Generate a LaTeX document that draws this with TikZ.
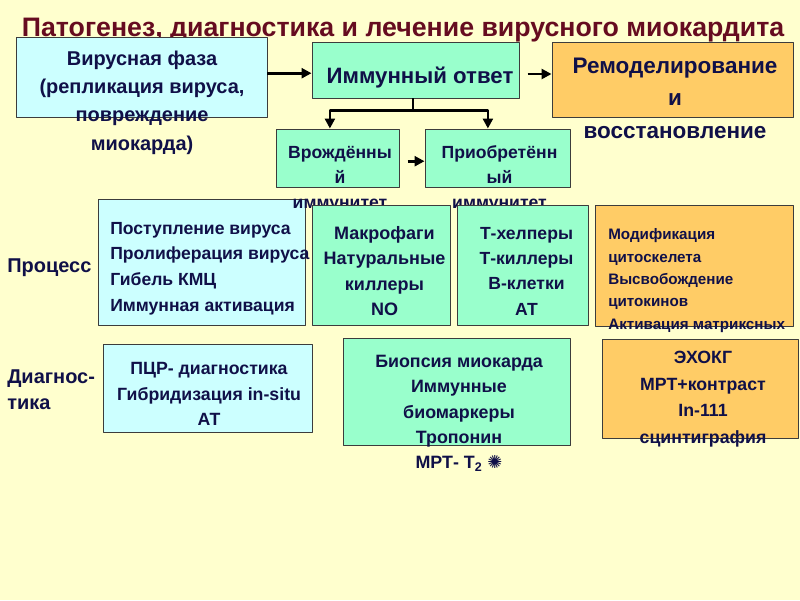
\documentclass[tikz,border=0pt]{standalone}
\usepackage{fontspec}
\setmainfont{Liberation Sans}
\newfontfamily\dingfont{DejaVu Sans}
\usetikzlibrary{fit,arrows.meta}

\begin{document}
\begin{tikzpicture}[
    x=0.025cm, y=-0.025cm,
    every node/.style={font=\bfseries, text=ink, inner sep=0pt},
    box/.style={draw=edge, line width=0.7pt, inner sep=0pt},
    arr/.style={-{Triangle[length=7pt,width=7pt]}, line width=1.9pt},
    line join=round
]

% Colors
\definecolor{paper}{RGB}{255,255,206}
\definecolor{ink}{RGB}{16,16,72}
\definecolor{headline}{RGB}{102,12,32}
\definecolor{edge}{RGB}{60,60,60}
\definecolor{skyfill}{RGB}{204,255,255}
\definecolor{mintfill}{RGB}{153,255,204}
\definecolor{amberfill}{RGB}{255,204,102}

% ----------------------------------------------------
% Background and title
% ----------------------------------------------------
\fill[paper] (0,0) rectangle (800,600);
\useasboundingbox (0,0) rectangle (800,600);

\node[font=\bfseries\fontsize{19}{22}\selectfont, text=headline, anchor=base] (title) at (403,36)
{Патогенез, диагностика и лечение вирусного миокардита};

% ----------------------------------------------------
% Top row: phases
% ----------------------------------------------------
\node[box, fill=skyfill, fit={(16,37) (267,117)}] (viral) {};
\node[box, fill=mintfill, fit={(312,42) (519,98)}] (immune) {};
\node[box, fill=amberfill, fit={(552,42) (793,117)}] (remodel) {};

\node[font=\bfseries\fontsize{14.2}{20.1}\selectfont, align=center] (viraltext) at (142,102.5)
{Вирусная фаза\\(репликация вируса,\\повреждение\\миокарда)};
\node[font=\bfseries\fontsize{15.8}{18}\selectfont, anchor=base] (immunetext) at (420,83) {Иммунный ответ};
\node[font=\bfseries\fontsize{16}{23.1}\selectfont, align=center] (remodeltext) at (675,98)
{Ремоделирование\\и\\восстановление};

\coordinate (immunein) at ([yshift=-0.08cm]immune.west);
\coordinate (immuneout) at ([yshift=-0.1cm]immune.east);
\draw[arr] (viral.east |- immunein) -- (immunein);
\draw[arr, shorten <=0.2cm] (immuneout) -- (remodel.west |- immuneout);

% ----------------------------------------------------
% Innate and acquired immunity
% ----------------------------------------------------
\node[box, fill=mintfill, fit={(276,129) (399,187)}] (innate) {};
\node[box, fill=mintfill, fit={(425,129) (570,187)}] (acquired) {};
\node[box, fill=skyfill, fit={(98,199) (305,325)}] (process) {};

\draw[line width=1.9pt] ([xshift=-0.06cm]immune.south) -- ++(0,12) coordinate (fork);
\draw[arr] (fork) -| ([xshift=-0.19cm]innate.north);
\draw[arr] (fork) -| ([xshift=-0.24cm]acquired.north);
\draw[arr, shorten <=0.2cm] ([yshift=-0.08cm]innate.east) -- ([yshift=-0.08cm]acquired.west);

\node[font=\bfseries\fontsize{12.5}{17.8}\selectfont, align=center] (innatetext) at (340,179)
{Врождённы\\й\\иммунитет};
\node[font=\bfseries\fontsize{12.5}{17.8}\selectfont, align=center] (acquiredtext) at (499.5,179)
{Приобретённ\\ый\\иммунитет};

% ----------------------------------------------------
% Process row
% ----------------------------------------------------
\node[box, fill=mintfill, fit={(312,205) (450,325)}] (cells) {};
\node[box, fill=mintfill, fit={(457,205) (588,325)}] (lymph) {};
\node[box, fill=amberfill, fit={(595,205) (793,326)}] (matrix) {};

\node[font=\bfseries\fontsize{14.2}{18}\selectfont, anchor=west] (processlabel) at (7,268) {Процесс};
\node[font=\bfseries\fontsize{12.5}{18.3}\selectfont, align=left, anchor=west] (processtext) at (110,268.5)
{Поступление вируса\\Пролиферация вируса\\Гибель КМЦ\\Иммунная активация};
\node[font=\bfseries\fontsize{12.8}{18}\selectfont, align=center] (cellstext) at (384.5,271)
{Макрофаги\\Натуральные\\киллеры\\NO};
\node[font=\bfseries\fontsize{12.5}{18}\selectfont, align=center] (lymphtext) at (526.5,271)
{Т-хелперы\\Т-киллеры\\В-клетки\\АТ};
\node[font=\bfseries\fontsize{10.8}{15.9}\selectfont, align=left, anchor=west] (matrixtext) at (608,280.5)
{Модификация\\цитоскелета\\Высвобождение\\цитокинов\\Активация матриксных};

% ----------------------------------------------------
% Diagnostics row
% ----------------------------------------------------
\node[box, fill=skyfill, fit={(103,344) (312,432)}] (pcr) {};
\node[box, fill=mintfill, fit={(343,338) (570,445)}] (biopsy) {};
\node[box, fill=amberfill, fit={(602,339) (798,438)}] (echo) {};

\node[font=\bfseries\fontsize{14.2}{18.5}\selectfont, align=left, anchor=west] (diaglabel) at (7,390)
{Диагнос-\\тика};
\node[font=\bfseries\fontsize{12.6}{18.1}\selectfont, align=center] (pcrtext) at (209,394)
{ПЦР- диагностика\\Гибридизация in-situ\\АТ};
\node[font=\bfseries\fontsize{12.7}{18}\selectfont, align=center] (biopsytext) at (459,413.5)
{Биопсия миокарда\\Иммунные\\биомаркеры\\Тропонин\\МРТ- T\textsubscript{2} {\dingfont ✺}};
\node[font=\bfseries\fontsize{12.6}{18.8}\selectfont, align=center] (echotext) at (703,399)
{ЭХОКГ\\МРТ+контраст\\In-111\\сцинтиграфия};

\end{tikzpicture}
\end{document}
